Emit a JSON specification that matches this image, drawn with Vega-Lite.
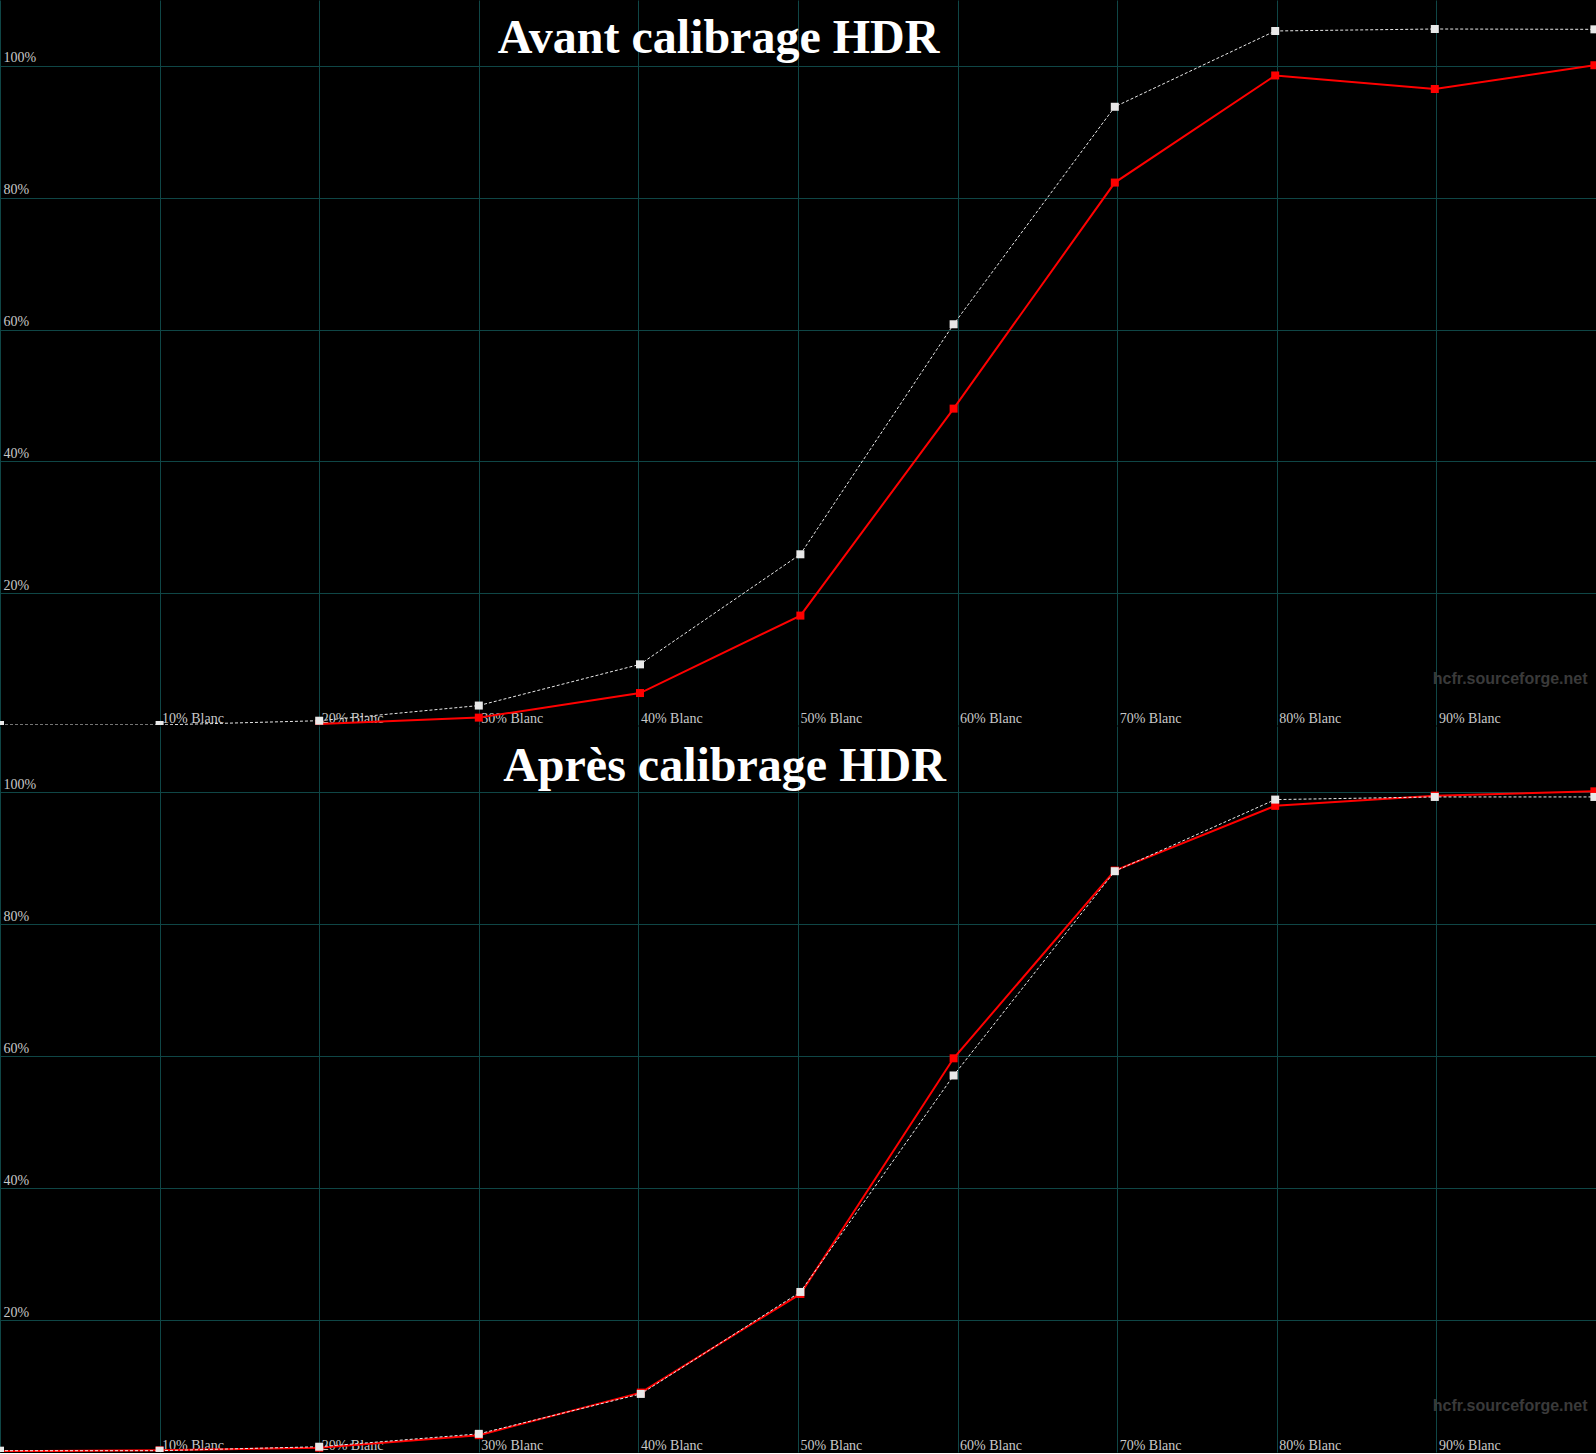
{
  "$schema": "https://vega.github.io/schema/vega-lite/v6.json",
  "background": "#000000",
  "padding": 0,
  "spacing": 0,
  "datasets": {
    "avant": [
      {"serie": "Référence", "x": 0, "y": 0.0},
      {"serie": "Référence", "x": 10, "y": 0.0},
      {"serie": "Référence", "x": 20, "y": 0.65},
      {"serie": "Référence", "x": 30, "y": 2.95},
      {"serie": "Référence", "x": 40.1, "y": 9.2},
      {"serie": "Référence", "x": 50.15, "y": 25.9},
      {"serie": "Référence", "x": 59.75, "y": 60.8},
      {"serie": "Référence", "x": 69.85, "y": 93.8},
      {"serie": "Référence", "x": 79.9, "y": 105.3},
      {"serie": "Référence", "x": 89.9, "y": 105.6},
      {"serie": "Référence", "x": 99.9, "y": 105.55},
      {"serie": "Mesure", "x": 20, "y": 0.15},
      {"serie": "Mesure", "x": 30, "y": 1.12},
      {"serie": "Mesure", "x": 40.1, "y": 4.85},
      {"serie": "Mesure", "x": 50.15, "y": 16.6},
      {"serie": "Mesure", "x": 59.75, "y": 48.0},
      {"serie": "Mesure", "x": 69.85, "y": 82.3},
      {"serie": "Mesure", "x": 79.9, "y": 98.55},
      {"serie": "Mesure", "x": 89.9, "y": 96.5},
      {"serie": "Mesure", "x": 99.9, "y": 100.1}
    ],
    "apres": [
      {"serie": "Référence", "x": 0, "y": 0.2},
      {"serie": "Référence", "x": 10, "y": 0.2},
      {"serie": "Référence", "x": 20, "y": 0.8},
      {"serie": "Référence", "x": 30, "y": 2.75},
      {"serie": "Référence", "x": 40.15, "y": 8.8},
      {"serie": "Référence", "x": 50.15, "y": 24.25},
      {"serie": "Référence", "x": 59.75, "y": 57.05},
      {"serie": "Référence", "x": 69.85, "y": 88.0},
      {"serie": "Référence", "x": 79.9, "y": 98.85},
      {"serie": "Référence", "x": 89.9, "y": 99.25},
      {"serie": "Référence", "x": 99.9, "y": 99.25},
      {"serie": "Mesure", "x": 0, "y": 0.1},
      {"serie": "Mesure", "x": 10, "y": 0.25},
      {"serie": "Mesure", "x": 20, "y": 0.65},
      {"serie": "Mesure", "x": 30, "y": 2.55},
      {"serie": "Mesure", "x": 40.15, "y": 9.0},
      {"serie": "Mesure", "x": 50.15, "y": 23.95},
      {"serie": "Mesure", "x": 59.75, "y": 59.65},
      {"serie": "Mesure", "x": 69.85, "y": 88.1},
      {"serie": "Mesure", "x": 79.9, "y": 97.9},
      {"serie": "Mesure", "x": 89.9, "y": 99.45},
      {"serie": "Mesure", "x": 99.9, "y": 100.1}
    ]
  },
  "vconcat": [
    {
      "width": 1596,
      "height": 725,
      "data": {"name": "avant"},
      "encoding": {
        "x": {"field": "x", "type": "quantitative", "scale": {"domain": [0, 100], "nice": false, "zero": false},
          "axis": {"orient": "bottom", "values": [0, 10, 20, 30, 40, 50, 60, 70, 80, 90, 100], "labelExpr": "datum.value > 0 && datum.value < 100 ? datum.value + '% Blanc' : ''", "labelAlign": "left", "labelBaseline": "alphabetic", "labelPadding": -2.5, "labelOffset": 2, "labelFlush": false, "labelOverlap": false, "labelBound": false, "labelFont": "Liberation Serif", "labelFontSize": 14, "labelColor": "#c8c8c8", "ticks": false, "domain": false, "grid": true, "gridColor": "#0f4646", "gridWidth": 1, "gridOpacity": 1, "title": "hcfr.sourceforge.net", "titleFont": "Liberation Sans", "titleFontSize": 16, "titleFontWeight": "bold", "titleColor": "#3a3a3a", "titleAlign": "right", "titleAnchor": "end", "titleBaseline": "alphabetic", "titleX": 1587, "titleY": -42}},
        "y": {"field": "y", "type": "quantitative", "scale": {"domain": [0, 110], "nice": false, "zero": false},
          "axis": {"values": [20, 40, 60, 80, 100], "labelExpr": "datum.value + '%'", "labelAlign": "left", "labelBaseline": "alphabetic", "labelPadding": -3, "labelOffset": -4, "labelOverlap": false, "labelFlush": false, "labelBound": false, "labelFont": "Liberation Serif", "labelFontSize": 14, "labelColor": "#c8c8c8", "ticks": false, "domain": false, "grid": true, "gridColor": "#0f4646", "gridWidth": 1, "gridOpacity": 1,
            "title": "Avant calibrage HDR", "titleFont": "Liberation Serif", "titleFontSize": 48, "titleFontWeight": "bold", "titleColor": "#ffffff", "titleAngle": 0, "titleAlign": "center", "titleBaseline": "alphabetic", "titleX": 718, "titleY": 52}}
      },
      "layer": [
        {"transform": [{"filter": "datum.serie === 'Mesure'"}], "mark": {"type": "line", "color": "#ff0000", "strokeWidth": 2, "clip": true}},
        {"transform": [{"filter": "datum.serie === 'Référence'"}], "mark": {"type": "line", "color": "#e8e8e8", "strokeWidth": 1, "strokeDash": [3, 2], "clip": true}},
        {"transform": [{"filter": "datum.serie === 'Mesure'"}], "mark": {"type": "point", "shape": "square", "filled": true, "size": 64, "color": "#ff0000", "opacity": 1, "clip": true}},
        {"transform": [{"filter": "datum.serie === 'Référence'"}], "mark": {"type": "point", "shape": "square", "filled": true, "size": 64, "color": "#e8e8e8", "opacity": 1, "clip": true}}
      ]
    },
    {
      "width": 1596,
      "height": 726,
      "data": {"name": "apres"},
      "encoding": {
        "x": {"field": "x", "type": "quantitative", "scale": {"domain": [0, 100], "nice": false, "zero": false},
          "axis": {"orient": "bottom", "values": [0, 10, 20, 30, 40, 50, 60, 70, 80, 90, 100], "labelExpr": "datum.value > 0 && datum.value < 100 ? datum.value + '% Blanc' : ''", "labelAlign": "left", "labelBaseline": "alphabetic", "labelPadding": -2.5, "labelOffset": 2, "labelFlush": false, "labelOverlap": false, "labelBound": false, "labelFont": "Liberation Serif", "labelFontSize": 14, "labelColor": "#c8c8c8", "ticks": false, "domain": false, "grid": true, "gridColor": "#0f4646", "gridWidth": 1, "gridOpacity": 1, "title": "hcfr.sourceforge.net", "titleFont": "Liberation Sans", "titleFontSize": 16, "titleFontWeight": "bold", "titleColor": "#3a3a3a", "titleAlign": "right", "titleAnchor": "end", "titleBaseline": "alphabetic", "titleX": 1587, "titleY": -42}},
        "y": {"field": "y", "type": "quantitative", "scale": {"domain": [0, 110], "nice": false, "zero": false},
          "axis": {"values": [20, 40, 60, 80, 100], "labelExpr": "datum.value + '%'", "labelAlign": "left", "labelBaseline": "alphabetic", "labelPadding": -3, "labelOffset": -4, "labelOverlap": false, "labelFlush": false, "labelBound": false, "labelFont": "Liberation Serif", "labelFontSize": 14, "labelColor": "#c8c8c8", "ticks": false, "domain": false, "grid": true, "gridColor": "#0f4646", "gridWidth": 1, "gridOpacity": 1,
            "title": "Après calibrage HDR", "titleFont": "Liberation Serif", "titleFontSize": 48, "titleFontWeight": "bold", "titleColor": "#ffffff", "titleAngle": 0, "titleAlign": "center", "titleBaseline": "alphabetic", "titleX": 724, "titleY": 54}}
      },
      "layer": [
        {"transform": [{"filter": "datum.serie === 'Mesure'"}], "mark": {"type": "line", "color": "#ff0000", "strokeWidth": 2, "clip": true}},
        {"transform": [{"filter": "datum.serie === 'Référence'"}], "mark": {"type": "line", "color": "#e8e8e8", "strokeWidth": 1, "strokeDash": [3, 2], "clip": true}},
        {"transform": [{"filter": "datum.serie === 'Mesure'"}], "mark": {"type": "point", "shape": "square", "filled": true, "size": 64, "color": "#ff0000", "opacity": 1, "clip": true}},
        {"transform": [{"filter": "datum.serie === 'Référence'"}], "mark": {"type": "point", "shape": "square", "filled": true, "size": 64, "color": "#e8e8e8", "opacity": 1, "clip": true}}
      ]
    }
  ],
  "config": {
    "view": {"stroke": null},
    "concat": {"spacing": 0}
  }
}
